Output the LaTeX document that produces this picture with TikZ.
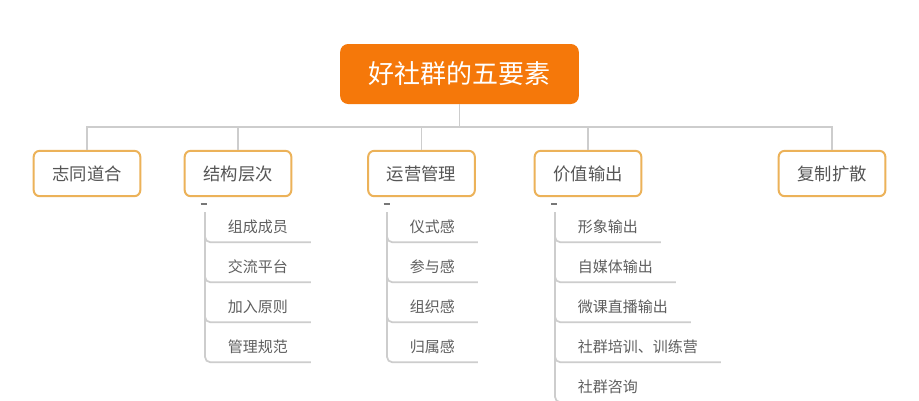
\documentclass[tikz,border=0pt]{standalone}
\usepackage{fontspec}
\setmainfont{Noto Sans CJK SC}
\definecolor{GOrange}{HTML}{F5780A}
\definecolor{GGold}{HTML}{ECB259}
\definecolor{GLine}{HTML}{CDCDCD}
\definecolor{GText}{HTML}{555555}
\definecolor{GSub}{HTML}{5F5F5F}
\definecolor{GTick}{HTML}{777777}
\begin{document}
\begin{tikzpicture}[x=0.75pt,y=-0.75pt,
  rootbox/.style={fill=GOrange,rounded corners=6pt,text=white,inner sep=0pt,
    font=\fontsize{19.5}{22}\selectfont,minimum width=179pt,minimum height=45pt},
  topicbox/.style={draw=GGold,line width=1.5pt,rounded corners=4.5pt,fill=white,text=GText,
    font=\fontsize{13}{15}\selectfont,minimum width=80pt,minimum height=34pt},
  leaf/.style={anchor=west,inner xsep=17pt,inner ysep=0pt,minimum height=22.5pt,text=GSub,
    font=\fontsize{11.25}{13}\selectfont},
  link/.style={GLine,line width=1.3pt},
  branch/.style={GLine,line width=1.3pt,rounded corners=4pt}]
\useasboundingbox (0,0) rectangle (919,400);
\fill[white] (0,0) rectangle (919,400);
\clip (0,0) rectangle (919,400);
\node[rootbox] (root) at (459.5,74) {好社群的五要素};
\coordinate (hub) at (459.5,127);
\node[topicbox] (t1) at (87,173.5) {志同道合};
\node[topicbox] (t2) at (238,173.5) {结构层次};
\node[topicbox] (t3) at (421.5,173.5) {运营管理};
\node[topicbox] (t4) at (588,173.5) {价值输出};
\node[topicbox] (t5) at (832,173.5) {复制扩散};
\draw[link] (root.south) -- (hub);
\draw[link] (hub) -| (t1.north);
\draw[link] (hub) -| (t2.north);
\draw[link] (hub) -| (t3.north);
\draw[link] (hub) -| (t4.north);
\draw[link] (hub) -| (t5.north);
\draw[GTick,line width=1pt] (200.5,204) -- (206.5,204);
\draw[GTick,line width=1pt] (383.5,204) -- (389.5,204);
\draw[GTick,line width=1pt] (551,204) -- (557,204);
\coordinate (s2) at (205,212);
\node[leaf] (l21) at (205,227) {组成成员};
\node[leaf] (l22) at (205,267) {交流平台};
\node[leaf] (l23) at (205,307) {加入原则};
\node[leaf] (l24) at (205,347) {管理规范};
\draw[branch] (s2) |- (l21.south east);
\draw[branch] (s2) |- (l22.south east);
\draw[branch] (s2) |- (l23.south east);
\draw[branch] (s2) |- (l24.south east);
\coordinate (s3) at (387,212);
\node[leaf] (l31) at (387,227) {仪式感};
\node[leaf] (l32) at (387,267) {参与感};
\node[leaf] (l33) at (387,307) {组织感};
\node[leaf] (l34) at (387,347) {归属感};
\draw[branch] (s3) |- (l31.south east);
\draw[branch] (s3) |- (l32.south east);
\draw[branch] (s3) |- (l33.south east);
\draw[branch] (s3) |- (l34.south east);
\coordinate (s4) at (555,212);
\node[leaf] (l41) at (555,227) {形象输出};
\node[leaf] (l42) at (555,267) {自媒体输出};
\node[leaf] (l43) at (555,307) {微课直播输出};
\node[leaf] (l44) at (555,347) {社群培训、训练营};
\node[leaf] (l45) at (555,387) {社群咨询};
\draw[branch] (s4) |- (l41.south east);
\draw[branch] (s4) |- (l42.south east);
\draw[branch] (s4) |- (l43.south east);
\draw[branch] (s4) |- (l44.south east);
\draw[branch] (s4) |- (l45.south east);
\end{tikzpicture}
\end{document}
